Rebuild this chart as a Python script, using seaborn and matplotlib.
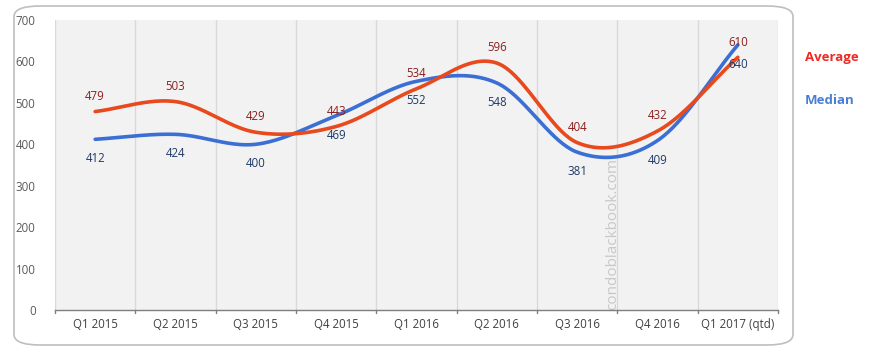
import numpy as np
import pandas as pd
import matplotlib
matplotlib.use("Agg")
import matplotlib.pyplot as plt
import seaborn as sns
from matplotlib.patches import FancyBboxPatch

quarters = ["Q1 2015", "Q2 2015", "Q3 2015", "Q4 2015", "Q1 2016",
            "Q2 2016", "Q3 2016", "Q4 2016", "Q1 2017 (qtd)"]
average = [479, 503, 429, 443, 534, 596, 404, 432, 610]
median = [412, 424, 400, 469, 552, 548, 381, 409, 640]
yticks = [0, 100, 200, 300, 400, 500, 600, 700]

sns.set_theme(style="white")
plt.rcParams['font.family'] = ['Open Sans', 'DejaVu Sans']

fig = plt.figure(figsize=(8.69, 3.51), dpi=100)
fig.patch.set_facecolor("white")
ax = fig.add_axes([55/869, 1-310/351, (778-55)/869, (310-20)/351])
ax.set_facecolor("#f2f2f2")

# rounded outer frame
frame = FancyBboxPatch((14/869, 6/351), (793-14)/869, (345-6)/351,
                       boxstyle="round,pad=0,rounding_size=0.03",
                       transform=fig.transFigure, facecolor="none",
                       edgecolor="#bfbfbf", linewidth=1.2, zorder=0)
fig.patches.append(frame)


def smooth(vals, n=40):
    """Catmull-Rom rendering path through the data points (Excel-style smoothing)."""
    x = np.arange(len(vals), dtype=float)
    y = np.asarray(vals, dtype=float)
    px = np.concatenate([[2*x[0]-x[1]], x, [2*x[-1]-x[-2]]])
    py = np.concatenate([[2*y[0]-y[1]], y, [2*y[-1]-y[-2]]])
    xs, ys = [], []
    for i in range(1, len(px)-2):
        t = np.linspace(0, 1, n, endpoint=(i == len(px)-3))
        for arr, out in ((px, xs), (py, ys)):
            p0, p1, p2, p3 = arr[i-1], arr[i], arr[i+1], arr[i+2]
            out.append(0.5*((2*p1) + (-p0+p2)*t + (2*p0-5*p1+4*p2-p3)*t**2 + (-p0+3*p1-3*p2+p3)*t**3))
    return np.concatenate(xs), np.concatenate(ys)

ax_x, ax_y = smooth(average)
md_x, md_y = smooth(median)
df = pd.concat([
    pd.DataFrame({"x": ax_x, "y": ax_y, "series": "Average"}),
    pd.DataFrame({"x": md_x, "y": md_y, "series": "Median"}),
])
sns.lineplot(data=df, x="x", y="y", hue="series", sort=False,
             palette={"Average": "#e8491d", "Median": "#3b6fd4"},
             hue_order=["Median", "Average"],
             linewidth=2.6, legend=False, ax=ax, estimator=None)

for i, v in enumerate(average):
    ax.annotate(str(v), (i, v), xytext=(0, 11), textcoords="offset points",
                ha="center", va="center", fontsize=8.3, color="#8b1e1e")
for i, v in enumerate(median):
    ax.annotate(str(v), (i, v), xytext=(0, -14), textcoords="offset points",
                ha="center", va="center", fontsize=8.3, color="#1f3a68")

ax.set_xlim(-0.5, len(quarters)-0.5)
ax.set_ylim(0, 700)
ax.set_yticks(yticks)
ax.set_yticklabels([str(t) for t in yticks], fontsize=8.3, color="#595959")
ax.set_xticks(range(len(quarters)))
ax.set_xticklabels(quarters, fontsize=8.3, color="#404040")
ax.tick_params(axis="both", length=0, pad=6)
ax.tick_params(axis="y", pad=14)

# category band boundaries
for b in np.arange(-0.5, len(quarters), 1.0):
    ax.axvline(b, color="#d9d9d9", linewidth=1, zorder=0)
    ax.plot([b, b], [0, -8], color="#7f7f7f", linewidth=1, clip_on=False,
            transform=ax.transData)
for s in ["left", "right", "top"]:
    ax.spines[s].set_visible(False)
ax.spines["bottom"].set_color("#7f7f7f")
ax.spines["bottom"].set_linewidth(1)
ax.set_xlabel("")
ax.set_ylabel("")

ax.text(6.44, 0, "condoblackbook.com", rotation=90, ha="center", va="bottom",
        fontsize=11, color="#c8c8c8", zorder=1)

fig.text(805/869, 1-58/351, "Average", fontsize=9.5, fontweight="bold",
         color="#ee2a24", va="center", ha="left")
fig.text(805/869, 1-101/351, "Median", fontsize=9.5, fontweight="bold",
         color="#4a7fd6", va="center", ha="left")

fig.savefig("out.png", dpi=100, facecolor="white")
